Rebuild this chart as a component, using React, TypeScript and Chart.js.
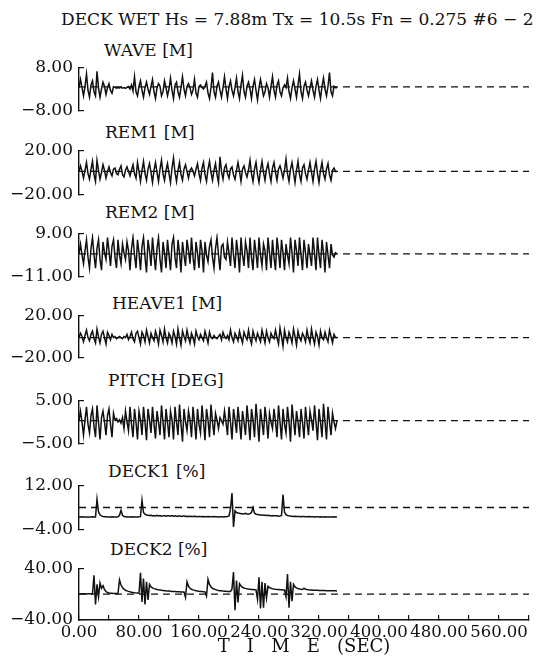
import React, { useEffect, useRef } from "react";
import { Chart, registerables } from "chart.js";

Chart.register(...registerables);

// ---------------- data ----------------
const SAMPLE_DT = 2; // seconds between samples (samples at t = 0, 2, 4, ... 344 s)
const X_MIN = 0;
const X_MAX = 600;
const X_TICKS = [0, 40, 80, 120, 160, 200, 240, 280, 320, 360, 400, 440, 480, 520, 560, 600];
const X_TICK_LABELS = [0, 80, 160, 240, 320, 400, 480, 560];

const TITLE = "DECK WET Hs = 7.88m Tx = 10.5s Fn = 0.275 #6 \u2212 2";
const X_TITLE = "T   I   M   E   (SEC)";

const PANEL_LABELS = ["WAVE [M]", "REM1 [M]", "REM2 [M]", "HEAVE1 [M]", "PITCH [DEG]", "DECK1 [%]", "DECK2 [%]"];
const Y_MIN = [-8, -20, -11, -20, -5, -4, -40];
const Y_MAX = [8, 20, 9, 20, 5, 12, 40];
const REF_LEVEL = [0.8, 1, -0.5, -1, 0.3, 4, 0];

const WAVE = [
  0.5, 3.5, 0.5, -2.5, 1.0, 5.5, -0.5, -3.0, 1.5, 3.0,
  -1.0, -2.5, 6.5, 0.5, -3.0, 0.0, 2.5, 1.0, -2.0, 0.5,
  2.0, -0.5, -1.5, 0.8, 0.6, 0.3, 0.5, 0.4, 0.6, 0.3,
  0.5, 0.2, 0.6, 0.9, 0.0, 1.5, -0.8, 4.5, -1.0, -2.5,
  1.0, 3.0, -0.5, -3.0, 0.5, 2.5, 0.0, -2.0, 1.0, 3.5,
  -1.0, -3.5, 0.5, 2.0, 1.0, -2.5, -1.0, 3.0, 0.5, -2.5,
  0.0, 4.0, -0.5, -3.5, 1.5, 2.5, -1.0, -3.0, 0.5, 4.5,
  0.0, -2.5, 1.0, 2.0, 0.5, -2.0, -0.5, 3.5, -1.5, -3.0,
  1.0, 1.5, 0.5, 0.0, 1.0, 2.5, -1.5, -3.5, 0.5, 6.0,
  -1.0, -3.0, 1.0, 2.5, -0.5, -3.0, 0.5, 4.5, 0.0, -3.5,
  1.0, 3.0, -0.5, -2.5, 0.5, 4.0, -1.0, -3.5, 1.5, 5.0,
  -1.0, -3.0, 1.0, 2.5, 0.0, -3.5, 1.0, 3.5, -0.5, -4.0,
  0.5, 3.5, 0.5, -2.5, -1.0, 2.0, 0.5, -3.0, 1.0, 4.5,
  -0.5, -3.0, 1.5, 3.0, -1.0, -2.5, 0.5, 1.5, 0.5, 4.0,
  -1.0, -3.5, 0.5, 3.0, 0.0, -3.0, 1.5, 5.5, -1.0, -3.5,
  1.0, 2.5, -0.5, -2.5, 0.5, 3.0, -0.5, -3.0, 1.0, 3.5,
  -0.5, -3.5, 1.0, 4.0, 0.0, -2.5, 1.0, 6.0, -1.0, -2.5,
  1.0, 0.5, 0.5,
];

const REM1 = [
  1, 6, 1, -5, 2, 9, -1, -6, 3, 10,
  -2, -8, 11, 2, -6, 0, 7, 2, -5, 1,
  5, 0, -3, 3, 4, -1, -2, 3, 6, -2,
  -4, 2, 5, 1, -3, 2, 7, -1, -5, 9,
  1, -8, 2, 10, -1, -7, 3, 8, 0, -9,
  2, 9, 0, -8, 3, 11, -1, -7, 2, 8,
  -1, -9, 4, 13, 0, -8, 2, 9, -2, -7,
  3, 7, 1, -5, 2, 4, 1, -3, 3, 8,
  -1, -7, 4, 9, -2, -8, 3, 10, 0, -7,
  2, 8, -2, -9, 14, 1, -6, 4, 7, -1,
  -5, 3, 5, -2, -6, 2, 9, 1, -8, 3,
  6, 0, -4, 2, 11, -1, -8, 3, 9, -2,
  -9, 2, 10, 0, -7, 3, 8, -1, -8, 4,
  9, 0, -7, 3, 6, 1, -5, 2, 12, -1,
  -8, 3, 9, 0, -9, 2, 10, -2, -8, 4,
  7, -1, -6, 2, 9, 0, -8, 3, 10, -1,
  -9, 2, 9, -1, -6, 3, 8, -2, -7, 2,
  4, 1, 1,
];

const REM2 = [
  -0.5, 4, -1, -5, 1, 6, -2, -7, 2, 7,
  -1, -7, 2, 6, -3, -8, 5, 0, -3, 7,
  1, -6, 3, 6, -2, -7, 6, -1, -5, 4,
  0, -3, 5, 1, -8, 2, 7, -1, -7, 6,
  0, -8, 3, 7, -2, -9, 6, 1, -6, 7,
  -1, -8, 2, 7, -3, -9, 5, 0, -7, 6,
  -1, -8, 4, 7, -2, -7, 6, 0, -9, 5,
  -1, -6, 6, 1, -5, 7, -2, -8, 5, 0,
  -7, 6, 1, -9, 5, -1, -4, 3, 6, -2,
  -7, 2, 7, -1, -8, 3, 4, -2, -3, 5,
  0, -6, 7, -1, -7, 6, 0, -9, 7, -1,
  -6, 5, 1, -7, 7, -2, -8, 6, 0, -7,
  7, -1, -6, 4, 1, -8, 7, 0, -7, 6,
  -2, -8, 7, 1, -7, 6, 0, -8, 4, -1,
  -5, 7, 0, -9, 6, 1, -6, 7, -1, -8,
  6, 0, -7, 4, -1, -6, 7, 0, -8, 7,
  -1, -7, 6, 0, -9, 5, -1, -7, 4, -1,
  -2, 0, -0.5,
];

const HEAVE1 = [
  -1, 3, 0, -5, 1, 6, -1, -4, 2, 5,
  -2, -6, 7, 0, -6, 2, 5, -1, -7, 4,
  1, -3, 2, -1, 0, -2, -1, 0, -1, -2,
  0, -1, 2, -3, 0, 4, -2, -5, 3, 5,
  -1, -7, 4, 1, -5, 6, 0, -6, 3, -1,
  -4, 5, 0, -7, 6, 1, -5, 7, -1, -6,
  3, 0, -6, 5, 0, -7, 7, -1, -8, 5,
  0, -4, 6, -1, -6, 3, -1, -7, 5, 0,
  -3, 2, -1, -4, 5, 0, -6, 4, -1, -2,
  1, -1, -2, 0, 2, -3, 4, 0, -2, 1,
  -3, 6, -1, -5, 3, 0, -4, 5, -1, -6,
  4, 0, -3, 6, -2, -7, 5, 0, -4, 3,
  -1, -5, 6, 0, -6, 5, -1, -5, 3, 0,
  -2, 6, -1, -7, 8, 0, -9, 6, -1, -5,
  4, 0, -6, 7, 0, -8, 5, -1, -4, 3,
  0, -5, 6, -1, -6, 7, -1, -7, 4, 0,
  -8, 5, -1, -3, 4, -1, -5, 6, 0, -6,
  2, -1, -1,
];

const PITCH = [
  0.3, 2.5, 0, -3, 0.5, 3.5, -0.5, -2.5, 1.5, 3,
  -1, -3.5, 3.8, 0, -4, 1, 2.5, 0, -3, 1.5,
  3, -0.5, -3.5, 2, 0.5, 0.8, 0, 0.5, -0.3, 1,
  -1.5, 2.5, 0, -2, 3.5, -0.5, -3.5, 3, 0, -4,
  2.5, 0.5, -3, 3.5, 0, -4.2, 3, 0.5, -2.5, 3.5,
  -0.5, -3.8, 2.5, 0, -3, 3.8, 0, -4, 3, 0,
  -3.5, 2.5, 0.5, -4, 3.5, 0, -3, 4, -0.5, -4.5,
  3, 0, -2, 2.5, 0.5, -3.5, 3.5, 0, -4, 3,
  -0.5, -2.5, 3.8, 0, -4.2, 3, 0.5, -3.5, 4, 0,
  -3, 2, 0.5, -1.5, 1, 0.3, -0.5, 2.5, 0, -3,
  3.5, 0, -4, 3, 0.5, -2.5, 3.5, 0, -4, 2.5,
  0, -3, 3.8, 0, -4.2, 3, 0.5, -3.5, 4.2, 0,
  -4.5, 3, 0, -3, 3.5, 0.5, -3.8, 2, 0, -1.5,
  3, 0, -3.5, 3.8, 0, -4, 3, -0.5, -2.5, 3.5,
  0, -4.5, 4, 0.5, -3, 2.5, 0, -3.5, 3, 0,
  -3.8, 3.5, 0, -3, 2.5, 0.5, -2, 3.8, 0, -4.2,
  3, 0, -3.5, 4.2, 0, -4, 3.5, 0, -3, 2,
  0, -1.5, 0.3,
];

const DECK1 = [
  0.6, 0.6, 0.7, 0.6, 0.6, 0.6, 0.5, 0.6, 0.6, 0.7, 0.6, 0.6,
  7.0,
  2.4, 1.4, 1.0, 0.8, 0.7, 0.7, 0.6, 0.6, 0.6, 0.7, 0.6, 0.6, 0.6, 0.7, 1.2,
  3.0, 1.2,
  0.8, 0.7, 0.6, 0.6, 0.6, 0.7, 0.6, 0.6, 0.6, 0.6, 0.7, 0.8,
  6.6,
  2.2, 1.6, 1.3, 1.2, 1.1, 1.2, 1.0, 1.1, 1.0, 1.2,
  1.0, 1.1, 0.9, 1.0, 1.1, 0.9, 1.0, 1.0, 0.9, 1.1,
  0.9, 1.0, 0.9, 0.9, 1.0, 0.8, 0.9, 1.0, 0.8, 0.9,
  0.8, 0.9, 0.8, 0.8, 0.9, 0.8, 0.7, 0.8, 0.8, 0.7,
  0.8, 0.7, 0.7, 0.8, 0.7, 0.7, 0.7, 0.8, 0.7, 0.7,
  0.6, 0.7, 0.7, 0.6, 0.7, 0.7, 0.8, 1.0,
  3.5, 9.2, -3.0, 2.8,
  2.2, 2.0, 1.9, 1.8, 1.8, 1.7, 1.9, 1.7, 1.6, 1.8,
  2.2, 4.0,
  2.0, 1.6, 1.5, 1.4, 1.3, 1.3, 1.2, 1.2, 1.1, 1.2, 1.1, 1.0, 1.1, 1.0, 1.0, 1.0, 0.9, 1.0, 1.1,
  8.6,
  2.3, 1.4, 1.1, 1.0, 0.9, 0.9, 0.8, 0.9, 0.8, 0.8,
  0.8, 0.7, 0.8, 0.8, 0.7, 0.7, 0.8, 0.7, 0.7, 0.7,
  0.6, 0.7, 0.7, 0.6, 0.7, 0.6, 0.6, 0.7, 0.6, 0.6,
  0.6, 0.6, 0.6, 0.7, 0.6, 0.6,
];

const DECK2 = [
  0.5, 0.3, 0.6, 0.4, 0.5, 0.3, 0.5, 0.6, 0.4, 0.5,
  29, -16, 15, -4, 17, 9, 13, 7, 4, 2.5,
  1.8, 1.4, 1.2, 1.0, 0.9, 0.8, 0.8,
  22,
  14, 10, 7.5, 6, 5, 4.2, 3.6, 3.0, 2.6, 2.2, 1.9, 1.6, 1.4,
  33, -12, 24, -16, 19, -9, 15, 11,
  9.5, 8.5, 7.8, 7.2, 6.7, 6.3, 5.9, 5.6, 5.3, 5.0, 4.8, 4.6, 4.4, 4.2, 4.0, 3.9, 3.7, 3.6, 3.5, 3.4, 3.3, 3.2,
  -5, 19,
  12, 9, 7.5, 6.5, 5.8, 5.2, 4.8, 4.4, 4.1, 3.9, 3.7, 3.5,
  -3, 23,
  15, 11, 9, 7.8, 6.9, 6.2, 5.7, 5.3, 5.0, 4.7, 4.5, 4.3, 4.1, 4.0, 3.9,
  8, 34, -25, 21, -13, 16, 12.5,
  10.5, 9.5, 8.8, 8.2, 7.8, 7.5, 7.2, 7.0, 6.8, 6.6,
  -8, 26, -22, 19, -21, 17, -6, 12,
  10, 9, 8.4, 7.9, 7.5, 7.2, 7.0, 6.8, 6.6, 6.4, 6.3,
  -4, 31, -21, 19, -11, 15, 11,
  9.5, 8.6, 8.0, 7.5, 7.1, 9.0, 7.6, 7.0, 6.7, 6.5,
  6.3, 6.1, 6.0, 5.9, 5.8, 5.7, 5.6, 5.5, 5.5, 5.4,
  5.3, 5.3, 5.2, 5.1, 5.1, 5.0, 5.0, 4.9,
];

const SERIES = [WAVE, REM1, REM2, HEAVE1, PITCH, DECK1, DECK2];

// ---------------- layout / style ----------------
const INK = "#111111";
const FONT = "'DejaVu Serif', 'Liberation Serif', serif";
const PANEL_TOP = [60, 143, 226, 308, 393, 478, 561];
const PANEL_BOTTOM = [118, 202, 284, 365, 451, 537, 620];
const LABEL_POS = [
  [104, 50],
  [105, 132],
  [105, 212],
  [112, 303],
  [108, 380],
  [108, 471],
  [110, 549],
];
const AXIS_LEFT = 79;
const PAD = 14;
const X_AXIS_H = 38;

const fmt = (v: number) => (v < 0 ? "\u2212" + Math.abs(v).toFixed(2) : v.toFixed(2));

function Panel({ idx }: { idx: number }) {
  const ref = useRef<HTMLCanvasElement>(null);
  const last = idx === SERIES.length - 1;
  const top = PANEL_TOP[idx];
  const areaH = PANEL_BOTTOM[idx] - top;
  const h = PAD + areaH + (last ? X_AXIS_H : PAD);

  useEffect(() => {
    const values = SERIES[idx];
    const yMin = Y_MIN[idx];
    const yMax = Y_MAX[idx];
    const chart = new Chart(ref.current as HTMLCanvasElement, {
      type: "line",
      data: {
        datasets: [
          {
            data: values.map((v, i) => ({ x: i * SAMPLE_DT, y: v })),
            borderColor: INK,
            borderWidth: 1.5,
            pointRadius: 0,
            tension: 0,
            fill: false,
            order: 1,
          },
          {
            data: [
              { x: X_MIN, y: REF_LEVEL[idx] },
              { x: X_MAX, y: REF_LEVEL[idx] },
            ],
            borderColor: INK,
            borderWidth: 1.3,
            borderDash: [7, 5],
            pointRadius: 0,
            fill: false,
            order: 2,
          },
        ],
      },
      options: {
        animation: false,
        responsive: false,
        maintainAspectRatio: false,
        events: [],
        layout: { padding: { top: PAD, bottom: last ? 0 : PAD, left: 0, right: 11 } },
        plugins: {
          legend: { display: false },
          tooltip: { enabled: false },
          title: { display: false },
        },
        scales: {
          x: {
            type: "linear",
            min: X_MIN,
            max: X_MAX,
            display: last,
            position: "bottom",
            afterBuildTicks: (s: any) => {
              s.ticks = X_TICKS.map((v) => ({ value: v }));
            },
            afterFit: (s: any) => {
              s.height = last ? X_AXIS_H : 0;
            },
            grid: {
              display: true,
              drawOnChartArea: false,
              drawTicks: true,
              tickLength: -5,
              color: INK,
              lineWidth: 1.2,
            },
            border: { display: true, color: INK, width: 1.4 },
            ticks: {
              autoSkip: false,
              maxRotation: 0,
              padding: 8,
              color: INK,
              font: { family: FONT, size: 16.5 },
              callback: (v: any) => (X_TICK_LABELS.includes(Number(v)) ? Number(v).toFixed(2) : ""),
            },
            title: {
              display: true,
              text: X_TITLE,
              color: INK,
              font: { family: FONT, size: 18 },
              padding: { top: 0, bottom: 0 },
            },
          },
          y: {
            type: "linear",
            min: yMin,
            max: yMax,
            position: "left",
            afterBuildTicks: (s: any) => {
              s.ticks = [{ value: yMin }, { value: yMax }];
            },
            afterFit: (s: any) => {
              s.width = AXIS_LEFT;
            },
            grid: {
              display: true,
              drawOnChartArea: false,
              drawTicks: true,
              tickLength: -5,
              color: INK,
              lineWidth: 1.2,
            },
            border: { display: true, color: INK, width: 1.4 },
            ticks: {
              padding: 11,
              color: INK,
              font: { family: FONT, size: 17 },
              callback: (v: any) => fmt(Number(v)),
            },
          },
        },
      },
    } as any);
    return () => chart.destroy();
  }, [idx]);

  return (
    <canvas
      ref={ref}
      width={540}
      height={h}
      style={{ position: "absolute", left: 0, top: top - PAD, width: 540, height: h, display: "block" }}
    />
  );
}

export default function App() {
  const textStyle = (x: number, cy: number): React.CSSProperties => ({
    position: "absolute",
    left: x,
    top: cy - 10,
    height: 20,
    lineHeight: "20px",
    fontFamily: FONT,
    fontSize: 17,
    color: INK,
    whiteSpace: "nowrap",
  });
  return (
    <div
      style={{
        position: "absolute",
        left: 0,
        top: 0,
        width: 540,
        height: 659,
        overflow: "hidden",
        background: "#fff",
      }}
    >
      <div style={textStyle(61, 19)}>{TITLE}</div>
      {PANEL_LABELS.map((lab, i) => (
        <div key={lab} style={textStyle(LABEL_POS[i][0], LABEL_POS[i][1])}>
          {lab}
        </div>
      ))}
      {SERIES.map((_, i) => (
        <Panel key={i} idx={i} />
      ))}
    </div>
  );
}
